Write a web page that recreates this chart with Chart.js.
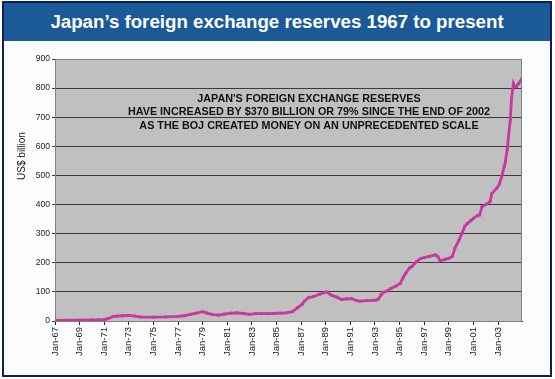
<!DOCTYPE html>
<html>
<head>
<meta charset="utf-8">
<script src="https://cdn.jsdelivr.net/npm/chart.js@4.4.1/dist/chart.umd.min.js"></script>
<style>
  body { margin: 0; background: #ffffff; }
  #frame {
    position: absolute; left: 2px; top: 1px; width: 550px; height: 376px;
    box-sizing: border-box; border: 2px solid #0e1d5c; background: #fbfcfe;
  }
  #titre {
    position: absolute; left: 0; top: 0; width: 100%; height: 38px;
    background: #1b5a97; color: #ffffff;
    font: bold 18.7px "Liberation Sans", Arial, sans-serif;
    text-align: center; line-height: 38px;
  }
  #grafico { position: absolute; left: 0; top: 0; }
</style>
</head>
<body>
<div id="frame"><div id="titre">Japan’s foreign exchange reserves 1967 to present</div></div>
<canvas id="grafico" width="555" height="379"></canvas>
<script>
// years (fraction = part of the year) and reserves in US$ billion
const anios = [
  1967.0, 1968.0, 1969.0, 1970.0, 1970.5, 1971.0, 1971.3, 1971.7, 1972.0, 1972.5,
  1973.0, 1973.5, 1974.0, 1975.0, 1976.0, 1977.0, 1977.5, 1978.0, 1978.5, 1979.0,
  1979.3, 1979.8, 1980.3, 1980.8, 1981.3, 1981.8, 1982.3, 1982.8, 1983.3, 1983.8,
  1984.3, 1984.8, 1985.3, 1985.8, 1986.3, 1986.7, 1987.1, 1987.3, 1987.6, 1988.0,
  1988.5, 1989.05, 1989.5, 1989.9, 1990.3, 1990.7, 1991.1, 1991.5, 1991.8, 1992.3,
  1992.8, 1993.1, 1993.3, 1993.5, 1993.7, 1994.0, 1994.3, 1994.7, 1995.06, 1995.3,
  1995.5, 1995.8, 1996.0, 1996.4, 1996.7, 1997.0, 1997.4, 1997.9, 1998.1, 1998.3,
  1998.7, 1999.0, 1999.3, 1999.5, 1999.8, 2000.07, 2000.3, 2000.5, 2000.8, 2001.0,
  2001.3, 2001.5, 2001.7, 2002.0, 2002.36, 2002.5, 2002.9, 2003.1, 2003.3, 2003.5,
  2003.6, 2003.75, 2003.85, 2004.0, 2004.1, 2004.25, 2004.35, 2004.5, 2004.65, 2004.8,
  2004.9
];
const reservas = [
  2, 2.5, 3, 3.5, 4, 5, 8, 15, 17, 18,
  19, 17, 13, 13, 14, 16, 18, 23, 27, 32,
  28, 22, 20, 24, 27, 28, 26, 23, 25, 25,
  25, 26, 27, 28, 32, 45, 58, 70, 80, 84,
  92, 100, 88, 82, 74, 76, 77, 70, 68, 70,
  71, 72, 76, 90, 99, 103, 112, 120, 129, 150,
  164, 182, 187, 205, 214, 218, 222, 227, 222, 207,
  212, 215, 223, 250, 275, 301, 325, 335, 345, 353,
  361, 364, 393, 400, 410, 438, 456, 470, 496, 530,
  547, 590, 633, 690, 765, 816, 806, 805, 815, 822,
  831
];
const aniosEtiqueta = [1967, 1969, 1971, 1973, 1975, 1977, 1979, 1981, 1983, 1985,
  1987, 1989, 1991, 1993, 1995, 1997, 1999, 2001, 2003];
const tituloEje = "US$ billion";
const nota = [
  "JAPAN'S FOREIGN EXCHANGE RESERVES",
  "HAVE INCREASED BY $370 BILLION OR 79% SINCE THE END OF 2002",
  "AS THE BOJ CREATED MONEY ON AN UNPRECEDENTED SCALE"
];

const fuente = '"Liberation Sans", Arial, sans-serif';

// fondo gris del area del grafico + textos extra
const decoracion = {
  id: 'decoracion',
  beforeDraw(chart) {
    const { ctx, chartArea: a } = chart;
    ctx.save();
    ctx.fillStyle = '#c0c0c0';
    ctx.fillRect(a.left, a.top, a.right - a.left, a.bottom - a.top);
    ctx.restore();
  },
  afterDraw(chart) {
    const { ctx, chartArea: a } = chart;
    ctx.save();
    ctx.strokeStyle = '#808080';
    ctx.lineWidth = 1;
    ctx.strokeRect(a.left + 0.5, a.top + 0.5, a.right - a.left - 1, a.bottom - a.top);
    // titulo del eje y
    ctx.fillStyle = '#222';
    ctx.font = '10px ' + fuente;
    ctx.textAlign = 'center';
    ctx.textBaseline = 'middle';
    ctx.translate(22, 156);
    ctx.rotate(-Math.PI / 2);
    ctx.fillText(tituloEje, 0, 0);
    ctx.restore();
    // nota
    ctx.save();
    ctx.fillStyle = '#111';
    ctx.font = 'bold 10.8px ' + fuente;
    ctx.textAlign = 'center';
    ctx.textBaseline = 'alphabetic';
    nota.forEach((linea, i) => ctx.fillText(linea, 309, 102 + i * 13.3));
    ctx.restore();
  }
};

new Chart(document.getElementById('grafico').getContext('2d'), {
  type: 'line',
  data: {
    datasets: [{
      data: anios.map((a, i) => ({ x: a, y: reservas[i] })),
      borderColor: '#c8389e',
      backgroundColor: '#c8389e',
      borderWidth: 2.8,
      pointStyle: 'rect',
      pointRadius: 2,
      pointBorderWidth: 0,
      tension: 0
    }]
  },
  options: {
    responsive: false,
    animation: false,
    layout: { padding: { top: 59, right: 33, left: 0, bottom: 0 } },
    plugins: { legend: { display: false }, tooltip: { enabled: false } },
    scales: {
      x: {
        type: 'linear',
        min: 1967,
        max: 2004.95,
        afterBuildTicks: (s) => { s.ticks = aniosEtiqueta.map(v => ({ value: v })); },
        afterFit: (s) => { s.height = 58; },
        border: { color: '#222', width: 1 },
        grid: { drawOnChartArea: false, drawTicks: true, tickLength: 4, color: '#222' },
        ticks: {
          autoSkip: false,
          maxRotation: 90,
          minRotation: 90,
          padding: 2,
          color: '#222',
          font: { size: 9.5, family: fuente },
          callback: (v) => 'Jan-' + String(v).slice(2)
        }
      },
      y: {
        min: 0,
        max: 900,
        afterFit: (s) => { s.width = 55; },
        border: { color: '#222', width: 1 },
        grid: { color: '#3a3a3a', lineWidth: 1, tickLength: 3 },
        ticks: {
          stepSize: 100,
          padding: 2,
          color: '#222',
          font: { size: 8.5, family: fuente }
        }
      }
    }
  },
  plugins: [decoracion]
});
</script>
</body>
</html>
